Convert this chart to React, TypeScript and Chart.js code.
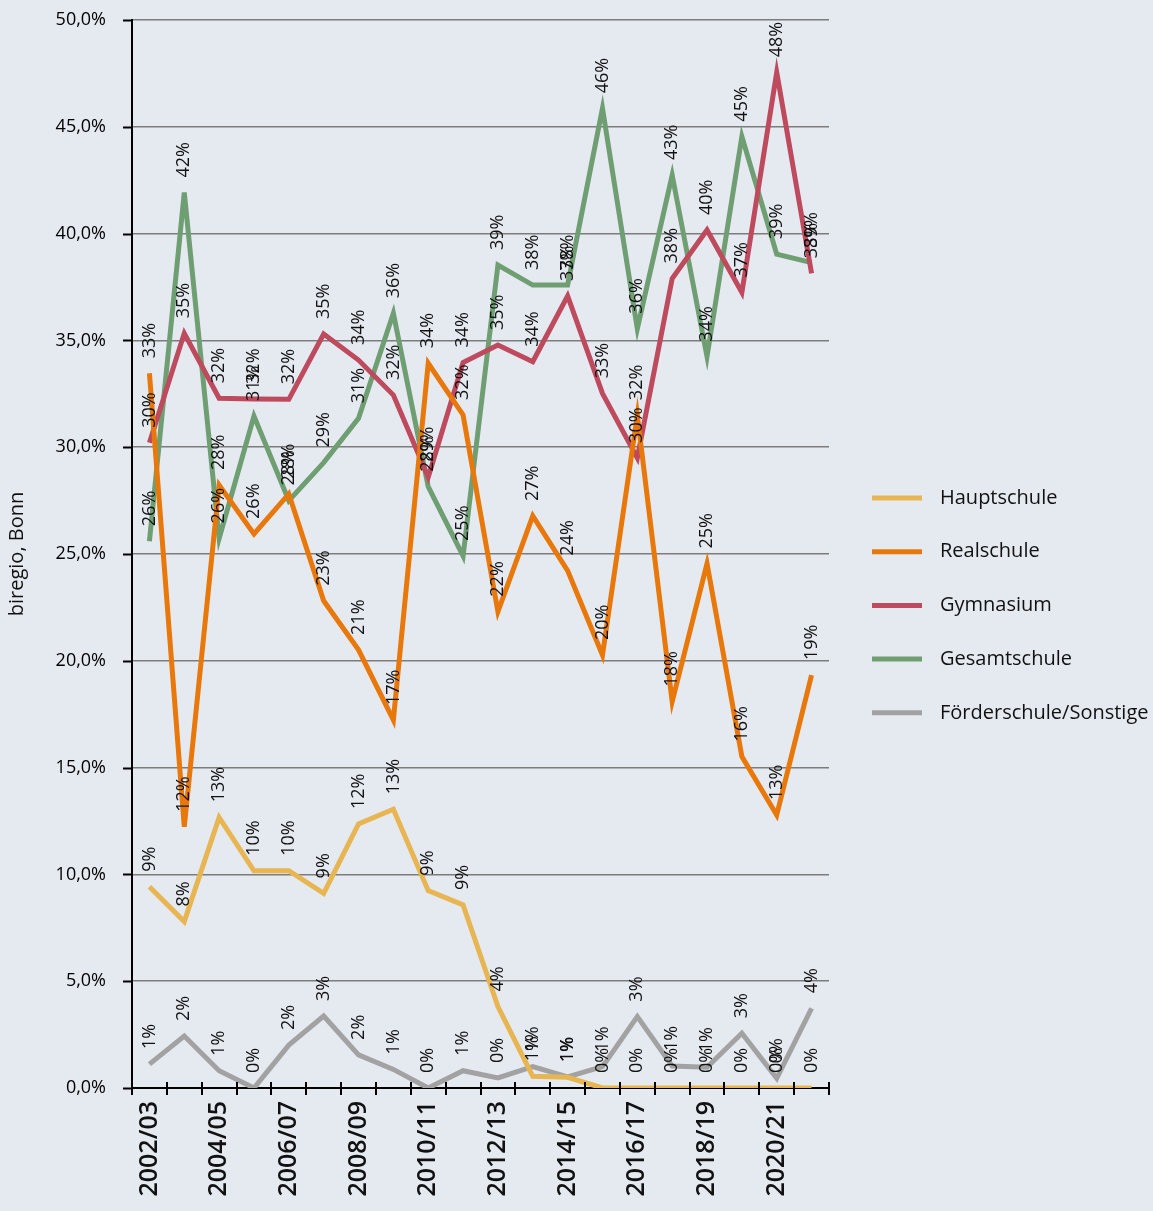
import React, { useEffect, useRef } from 'react';
import { Chart, registerables } from 'chart.js';

Chart.register(...registerables);

const categories = [
  '2002/03', '2003/04', '2004/05', '2005/06', '2006/07', '2007/08', '2008/09', '2009/10', '2010/11', '2011/12',
  '2012/13', '2013/14', '2014/15', '2015/16', '2016/17', '2017/18', '2018/19', '2019/20', '2020/21', '2021/22',
];

const hauptschule = [9.42, 7.79, 12.67, 10.17, 10.17, 9.11, 12.36, 13.05, 9.24, 8.57, 3.81, 0.55, 0.5, 0, 0, 0, 0, 0, 0, 0];
const realschule = [33.46, 12.23, 28.23, 25.94, 27.81, 22.81, 20.51, 17.23, 33.93, 31.51, 22.3, 26.78, 24.22, 20.27, 31.5, 18.09, 24.55, 15.52, 12.78, 19.33];
const gymnasium = [30.21, 35.33, 32.29, 32.26, 32.24, 35.3, 34.08, 32.44, 28.6, 33.96, 34.78, 34.0, 37.08, 32.52, 29.5, 37.9, 40.17, 37.24, 47.55, 38.14];
const gesamtschule = [25.6, 41.92, 25.73, 31.46, 27.5, 29.28, 31.35, 36.27, 28.15, 24.91, 38.53, 37.59, 37.59, 45.87, 35.55, 42.74, 34.24, 44.54, 39.04, 38.64];
const foerderschule = [1.12, 2.43, 0.81, 0, 2.01, 3.37, 1.55, 0.87, 0, 0.81, 0.47, 1.0, 0.52, 1.0, 3.34, 1.03, 0.97, 2.56, 0.45, 3.73];

const seriesNames = ['Hauptschule', 'Realschule', 'Gymnasium', 'Gesamtschule', 'Förderschule/Sonstige'];
const seriesColors = ['#E8B553', '#E8780A', '#BE4A5E', '#6E9E72', '#A2A2A2'];
const seriesValues = [hauptschule, realschule, gymnasium, gesamtschule, foerderschule];

const yTicks = { min: 0, max: 50, step: 5 };
const yTitle = 'biregio, Bonn';

const BG = '#E5EAF1';
const FONT = '"Open Sans", "DejaVu Sans", sans-serif';

const bgPlugin = {
  id: 'bg',
  beforeDraw(chart: any) {
    const { ctx, width, height } = chart;
    ctx.save();
    ctx.fillStyle = BG;
    ctx.fillRect(0, 0, width, height);
    ctx.restore();
  },
};

const dataLabelPlugin = {
  id: 'dataLabels',
  afterDatasetsDraw(chart: any) {
    const { ctx } = chart;
    ctx.save();
    ctx.fillStyle = '#111';
    ctx.font = `18px ${FONT}`;
    ctx.textAlign = 'left';
    ctx.textBaseline = 'middle';
    chart.data.datasets.forEach((ds: any, di: number) => {
      const meta = chart.getDatasetMeta(di);
      meta.data.forEach((pt: any, i: number) => {
        const v = ds.data[i];
        ctx.save();
        ctx.translate(pt.x, pt.y - 15);
        ctx.rotate(-Math.PI / 2);
        ctx.fillText(`${Math.round(v)}%`, 0, 0);
        ctx.restore();
      });
    });
    ctx.restore();
  },
};

const axisTickPlugin = {
  id: 'axisTicks',
  afterDraw(chart: any) {
    const { ctx, chartArea, scales } = chart;
    const xs = scales.x;
    const ys = scales.y;
    const n = categories.length;
    const step = (chartArea.right - chartArea.left) / n;
    ctx.save();
    ctx.strokeStyle = '#000';
    ctx.lineWidth = 2;
    for (let i = 0; i <= n; i++) {
      const x = Math.round(xs.left + i * step);
      ctx.beginPath();
      ctx.moveTo(x, chartArea.bottom - 6);
      ctx.lineTo(x, chartArea.bottom + 7);
      ctx.stroke();
    }
    ys.ticks.forEach((t: any) => {
      const y = Math.round(ys.getPixelForValue(t.value)) + 0.5;
      ctx.beginPath();
      ctx.moveTo(chartArea.left - 9, y);
      ctx.lineTo(chartArea.left, y);
      ctx.stroke();
    });
    ctx.restore();
  },
};

const legendPlugin = {
  id: 'customLegend',
  afterDraw(chart: any) {
    const { ctx, chartArea } = chart;
    const x0 = chartArea.right + 43;
    const y0 = chartArea.top + 478;
    const gap = 53.7;
    ctx.save();
    ctx.font = `500 20px ${FONT}`;
    ctx.textAlign = 'left';
    ctx.textBaseline = 'middle';
    chart.data.datasets.forEach((ds: any, i: number) => {
      const y = y0 + i * gap;
      ctx.strokeStyle = ds.borderColor;
      ctx.lineWidth = 5;
      ctx.beginPath();
      ctx.moveTo(x0, y);
      ctx.lineTo(x0 + 50, y);
      ctx.stroke();
      ctx.fillStyle = '#111';
      ctx.fillText(ds.label, x0 + 68, y);
    });
    ctx.restore();
  },
};

export default function App() {
  const ref = useRef<HTMLCanvasElement>(null);

  useEffect(() => {
    if (!ref.current) return;
    const chart = new Chart(ref.current, {
      type: 'line',
      data: {
        labels: categories,
        datasets: seriesNames.map((name, i) => ({
          label: name,
          data: seriesValues[i],
          borderColor: seriesColors[i],
          backgroundColor: seriesColors[i],
          borderWidth: 5,
          pointRadius: 0,
          tension: 0,
          fill: false,
        })),
      },
      options: {
        responsive: false,
        animation: false,
        layout: { padding: { top: 20, right: 324, left: 0, bottom: 0 } },
        plugins: {
          legend: { display: false },
          tooltip: { enabled: false },
        },
        scales: {
          x: {
            offset: true,
            grid: {
              offset: true,
              drawOnChartArea: false,
              drawTicks: true,
              tickLength: 7,
              tickColor: 'rgba(0,0,0,0)',
              tickWidth: 2,
            },
            border: { display: true, color: '#000', width: 2 },
            ticks: {
              autoSkip: false,
              maxRotation: 90,
              minRotation: 90,
              padding: 6,
              color: '#111',
              font: { family: FONT, size: 25, weight: '600' },
              callback: (_v: any, i: number) => (i % 2 === 0 ? categories[i] : ''),
            },
            afterFit: (s: any) => {
              s.height = 123;
            },
          },
          y: {
            min: yTicks.min,
            max: yTicks.max,
            ticks: {
              stepSize: yTicks.step,
              color: '#000',
              padding: 0,
              font: { family: FONT, size: 18, weight: '500' },
              callback: (v: any) => Number(v).toFixed(1).replace('.', ',') + '%',
            },
            grid: {
              color: '#7c7c7c',
              lineWidth: 1.5,
              tickLength: 26,
              tickColor: 'rgba(0,0,0,0)',
              tickWidth: 2,
            },
            border: { display: true, color: '#000', width: 2 },
            title: {
              display: true,
              text: yTitle,
              color: '#111',
              padding: { top: 5, bottom: 0 },
              font: { family: FONT, size: 20, weight: '500' },
            },
            afterFit: (s: any) => {
              s.width = 132;
            },
          },
        },
      },
      plugins: [bgPlugin, dataLabelPlugin, axisTickPlugin, legendPlugin],
    } as any);
    return () => chart.destroy();
  }, []);

  return (
    <div style={{ position: 'fixed', left: 0, top: 0, width: 1153, height: 1211, background: BG }}>
      <canvas ref={ref} width={1153} height={1211} style={{ display: 'block' }} />
    </div>
  );
}
